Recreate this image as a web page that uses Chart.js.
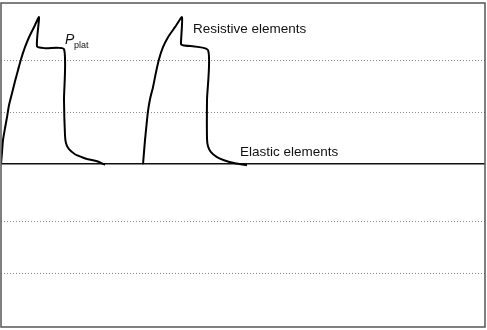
<!DOCTYPE html>
<html>
<head>
<meta charset="utf-8">
<script src="https://cdn.jsdelivr.net/npm/chart.js@4/dist/chart.umd.min.js"></script>
<style>
  body { margin: 0; background: #fff; }
  canvas { display: block; }
</style>
</head>
<body>
<canvas id="pressureChart" width="487" height="330"></canvas>
<script>
// Airway pressure trace, two breaths (time in s, pressure in cmH2O)
var breath1Time = [0, 0.01, 0.02, 0.04, 0.06, 0.08, 0.11, 0.14, 0.17, 0.20, 0.24, 0.28, 0.33, 0.38,
    0.36, 0.44, 0.63, 0.63, 0.64, 0.65, 0.68, 0.74, 0.81, 0.87, 0.96, 1.04];
var breath1Pressure = [0, 2.31, 4.62, 6.92, 9.04, 11.35, 13.65, 15.96, 18.08, 20.19, 22.5, 24.42, 26.35, 28.27,
    22.69, 22.31, 22.12, 12.31, 5.58, 4.04, 2.88, 1.92, 1.35, 0.96, 0.58, -0.1];

var breath2Time = [1.42, 1.43, 1.44, 1.455, 1.47, 1.49, 1.52, 1.55, 1.58, 1.62, 1.67, 1.74, 1.81,
    1.80, 1.82, 2.07, 2.06, 2.06, 2.07, 2.10, 2.16, 2.23, 2.34, 2.46];
var breath2Pressure = [0, 2.31, 4.62, 7.5, 10.19, 12.5, 14.81, 17.69, 20.19, 22.5, 24.42, 26.35, 28.27,
    23.08, 22.88, 21.92, 12.31, 5.0, 3.46, 2.31, 1.35, 0.77, 0.19, -0.19];

var gridValues = [-21, -11, 0, 10, 20];

// Text annotations, anchored in data units
var labelTexts = ["Resistive elements", "Elastic elements"];
var labelTime = [1.92, 2.39];
var labelPressure = [25.2, 1.6];
var platText = ["P", "plat"];
var platTime = [0.64, 0.73];
var platPressure = [23.2, 22.4];

function toPoints(xs, ys) {
    return xs.map(function (x, i) {
        return {x: x, y: ys[i]};
    });
}

var framePlugin = {
    id: "frame",
    afterDraw: function (chart) {
        var ctx = chart.ctx;
        var area = chart.chartArea;
        var xs = chart.scales.x;
        var ys = chart.scales.y;
        ctx.save();
        ctx.strokeStyle = "#555";
        ctx.lineWidth = 1.5;
        ctx.strokeRect(area.left, area.top, area.right - area.left, area.bottom - area.top);

        ctx.fillStyle = "#111";
        ctx.textBaseline = "alphabetic";
        ctx.textAlign = "left";
        ctx.font = "13.5px 'Liberation Sans', Arial, sans-serif";
        labelTexts.forEach(function (t, i) {
            ctx.fillText(t, xs.getPixelForValue(labelTime[i]), ys.getPixelForValue(labelPressure[i]));
        });
        ctx.font = "italic 14px 'Liberation Sans', Arial, sans-serif";
        ctx.fillText(platText[0], xs.getPixelForValue(platTime[0]), ys.getPixelForValue(platPressure[0]));
        ctx.font = "9px 'Liberation Sans', Arial, sans-serif";
        ctx.fillText(platText[1], xs.getPixelForValue(platTime[1]), ys.getPixelForValue(platPressure[1]));
        ctx.restore();
    }
};

var ctx = document.getElementById("pressureChart").getContext("2d");
var pressureChart = new Chart(ctx, {
    type: "line",
    data: {
        datasets: [
            {
                label: "Breath 1",
                data: toPoints(breath1Time, breath1Pressure),
                borderColor: "#000",
                borderWidth: 2,
                pointRadius: 0,
                tension: 0.2,
                fill: false
            },
            {
                label: "Breath 2",
                data: toPoints(breath2Time, breath2Pressure),
                borderColor: "#000",
                borderWidth: 2,
                pointRadius: 0,
                tension: 0.2,
                fill: false
            }
        ]
    },
    options: {
        responsive: false,
        animation: false,
        layout: {padding: {left: 1, right: 2, top: 3, bottom: 3}},
        plugins: {
            legend: {display: false},
            tooltip: {enabled: false}
        },
        scales: {
            x: {
                type: "linear",
                min: 0,
                max: 4.84,
                display: false
            },
            y: {
                type: "linear",
                min: -31.3,
                max: 31,
                afterBuildTicks: function (axis) {
                    axis.ticks = gridValues.map(function (v) {
                        return {value: v};
                    });
                },
                ticks: {display: false},
                grid: {
                    drawTicks: false,
                    color: function (c) {
                        return c.tick && c.tick.value === 0 ? "#111" : "#888";
                    },
                    lineWidth: function (c) {
                        return c.tick && c.tick.value === 0 ? 1.5 : 1;
                    }
                },
                border: {
                    display: false,
                    dash: function (c) {
                        return c.tick && c.tick.value === 0 ? [] : [1, 2];
                    }
                }
            }
        }
    },
    plugins: [framePlugin]
});
</script>
</body>
</html>
